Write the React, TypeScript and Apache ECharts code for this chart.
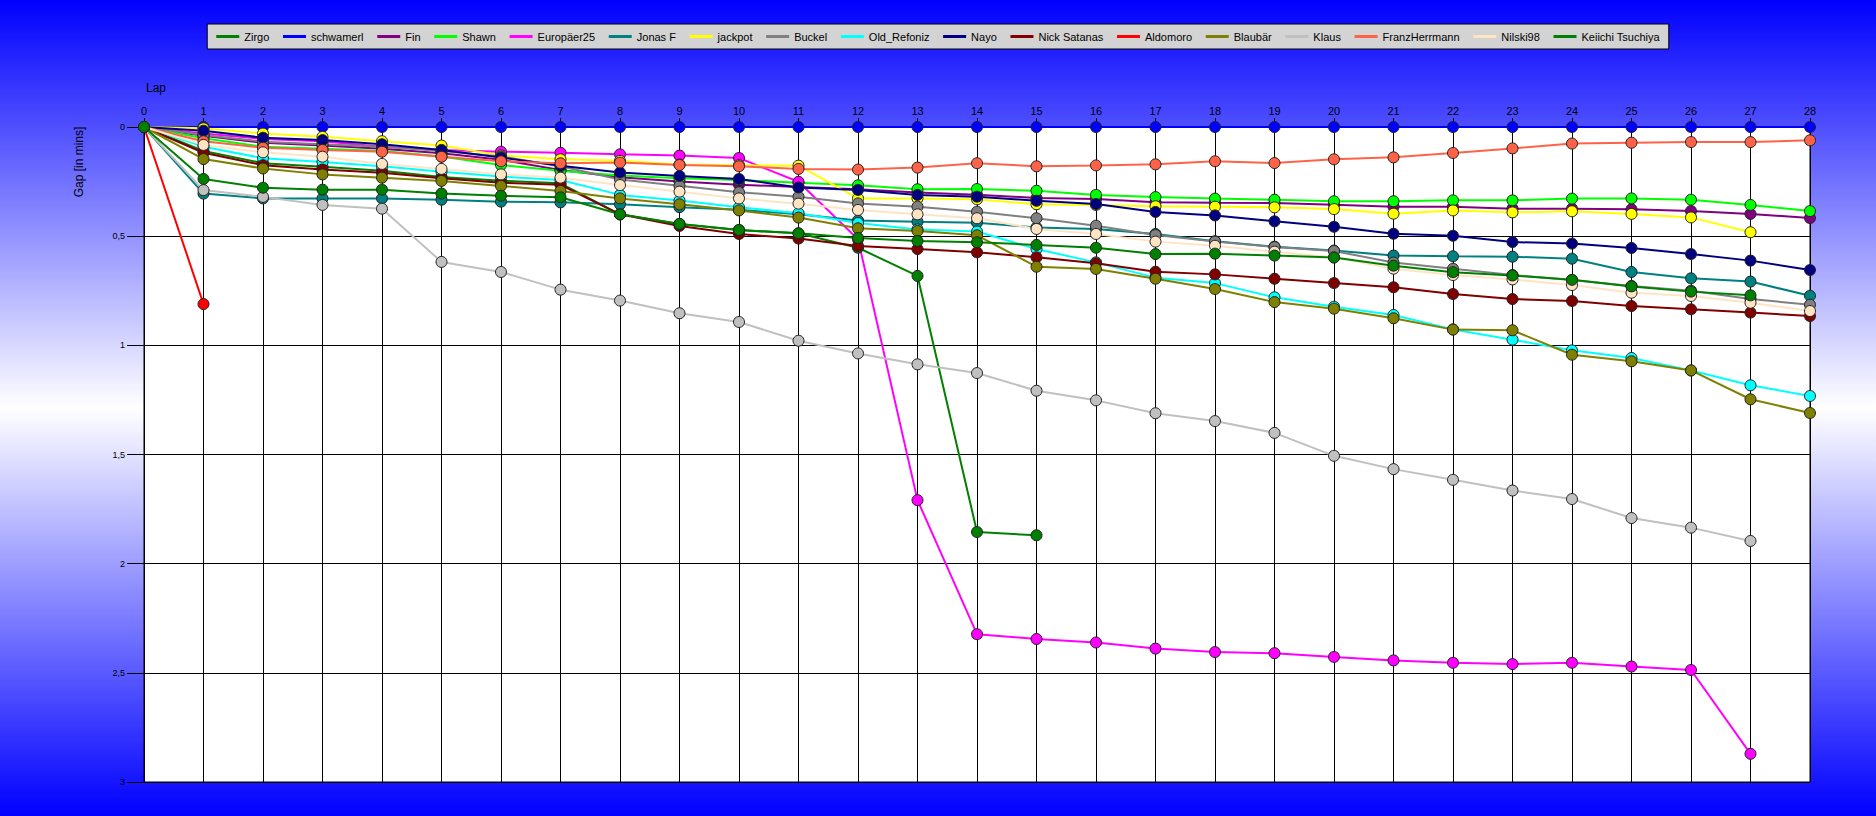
import React, { useEffect, useRef } from "react";
import * as echarts from "echarts";

const laps: string[] = Array.from({ length: 29 }, (_, i) => String(i));

const names = [
  "Zirgo", "schwamerl", "Fin", "Shawn", "Europäer25", "Jonas F", "jackpot", "Buckel",
  "Old_Refoniz", "Nayo", "Nick Satanas", "Aldomoro", "Blaubär", "Klaus",
  "FranzHerrmann", "Nilski98", "Keiichi Tsuchiya",
];

const colors = [
  "#008000", "#0000ff", "#800080", "#00ff00", "#ff00ff", "#008080", "#ffff00", "#808080",
  "#00ffff", "#000080", "#800000", "#ff0000", "#808000", "#c0c0c0",
  "#ff6347", "#ffe4c4", "#008000",
];

const zirgo = [0, 0.11, 0.166, 0.182, 0.2, 0.229, 0.246, 0.258, 0.40, 0.444, 0.472, 0.487, 0.553, 0.682, 1.855, 1.87];
const schwamerl = [0, 0, 0, 0, 0, 0, 0, 0, 0, 0, 0, 0, 0, 0, 0, 0, 0, 0, 0, 0, 0, 0, 0, 0, 0, 0, 0, 0, 0];
const fin = [0, 0.04, 0.072, 0.085, 0.1, 0.12, 0.15, 0.197, 0.23, 0.25, 0.264, 0.275, 0.285, 0.3, 0.31, 0.325, 0.33, 0.345, 0.347, 0.348, 0.356, 0.365, 0.365, 0.374, 0.374, 0.377, 0.385, 0.398, 0.417];
const shawn = [0, 0.052, 0.09, 0.1, 0.11, 0.135, 0.174, 0.2, 0.222, 0.235, 0.243, 0.255, 0.267, 0.285, 0.284, 0.292, 0.311, 0.321, 0.328, 0.333, 0.34, 0.34, 0.336, 0.336, 0.328, 0.327, 0.333, 0.357, 0.385];
const europaer25 = [0, 0.03, 0.055, 0.065, 0.09, 0.105, 0.113, 0.118, 0.125, 0.131, 0.142, 0.251, 0.514, 1.709, 2.323, 2.345, 2.361, 2.389, 2.405, 2.41, 2.427, 2.443, 2.454, 2.46, 2.454, 2.471, 2.487, 2.871];
const jonasF = [0, 0.305, 0.327, 0.327, 0.327, 0.333, 0.342, 0.345, 0.354, 0.367, 0.379, 0.4, 0.428, 0.434, 0.438, 0.46, 0.467, 0.49, 0.523, 0.548, 0.566, 0.589, 0.592, 0.594, 0.603, 0.664, 0.693, 0.708, 0.773];
const jackpot = [0, 0.006, 0.03, 0.045, 0.065, 0.085, 0.13, 0.148, 0.155, 0.172, 0.175, 0.177, 0.327, 0.327, 0.331, 0.354, 0.357, 0.363, 0.365, 0.368, 0.376, 0.397, 0.382, 0.391, 0.386, 0.398, 0.414, 0.482];
const buckel = [0, 0.037, 0.067, 0.079, 0.09, 0.11, 0.135, 0.18, 0.24, 0.269, 0.299, 0.319, 0.35, 0.365, 0.388, 0.418, 0.452, 0.495, 0.525, 0.55, 0.568, 0.621, 0.649, 0.678, 0.701, 0.728, 0.75, 0.788, 0.814];
const oldRefoniz = [0, 0.09, 0.143, 0.16, 0.18, 0.205, 0.227, 0.243, 0.311, 0.337, 0.368, 0.395, 0.44, 0.469, 0.479, 0.559, 0.62, 0.69, 0.715, 0.78, 0.823, 0.861, 0.927, 0.974, 1.023, 1.058, 1.115, 1.183, 1.232];
const nayo = [0, 0.017, 0.049, 0.06, 0.079, 0.105, 0.14, 0.177, 0.208, 0.224, 0.238, 0.277, 0.288, 0.311, 0.319, 0.338, 0.353, 0.389, 0.405, 0.432, 0.457, 0.489, 0.498, 0.527, 0.534, 0.554, 0.582, 0.612, 0.655];
const nickSatanas = [0, 0.118, 0.175, 0.195, 0.21, 0.235, 0.255, 0.265, 0.40, 0.453, 0.49, 0.511, 0.545, 0.559, 0.574, 0.597, 0.624, 0.663, 0.675, 0.695, 0.715, 0.734, 0.765, 0.788, 0.797, 0.82, 0.835, 0.85, 0.866];
const aldomoro = [0, 0.811];
const blaubaer = [0, 0.147, 0.19, 0.217, 0.232, 0.247, 0.27, 0.293, 0.327, 0.354, 0.382, 0.415, 0.464, 0.476, 0.496, 0.64, 0.65, 0.695, 0.742, 0.802, 0.832, 0.876, 0.928, 0.931, 1.043, 1.073, 1.115, 1.247, 1.31];
const klaus = [0, 0.289, 0.32, 0.357, 0.374, 0.618, 0.664, 0.745, 0.795, 0.853, 0.893, 0.979, 1.037, 1.087, 1.127, 1.208, 1.252, 1.311, 1.347, 1.401, 1.506, 1.567, 1.616, 1.665, 1.704, 1.791, 1.835, 1.896];
const franzHerrmann = [0, 0.065, 0.095, 0.105, 0.113, 0.136, 0.157, 0.166, 0.163, 0.174, 0.18, 0.192, 0.195, 0.186, 0.166, 0.18, 0.176, 0.171, 0.157, 0.165, 0.148, 0.139, 0.119, 0.098, 0.076, 0.072, 0.069, 0.069, 0.061];
const nilski98 = [0, 0.082, 0.116, 0.136, 0.169, 0.192, 0.217, 0.232, 0.266, 0.296, 0.327, 0.351, 0.38, 0.4, 0.418, 0.467, 0.49, 0.525, 0.544, 0.571, 0.597, 0.649, 0.678, 0.698, 0.724, 0.759, 0.774, 0.805, 0.843];
const keiichi = [0, 0.238, 0.278, 0.287, 0.287, 0.305, 0.315, 0.322, 0.40, 0.444, 0.472, 0.487, 0.508, 0.522, 0.528, 0.54, 0.553, 0.582, 0.58, 0.589, 0.598, 0.635, 0.665, 0.68, 0.70, 0.73, 0.754, 0.771];

const seriesValues = [
  zirgo, schwamerl, fin, shawn, europaer25, jonasF, jackpot, buckel,
  oldRefoniz, nayo, nickSatanas, aldomoro, blaubaer, klaus,
  franzHerrmann, nilski98, keiichi,
];

const yTicks = [0, 0.5, 1, 1.5, 2, 2.5, 3];

const FONT = "Liberation Sans, Arial, sans-serif";

export default function App() {
  const ref = useRef<HTMLDivElement>(null);

  useEffect(() => {
    if (!ref.current) return;
    const chart = echarts.init(ref.current, undefined, { renderer: "svg" });
    const series = names.map((name, i) => ({
      name,
      type: "line",
      data: seriesValues[i],
      symbol: "circle",
      symbolSize: 11,
      showSymbol: true,
      lineStyle: { color: colors[i], width: 2 },
      itemStyle: { color: colors[i], borderColor: "#222", borderWidth: 1 },
      emphasis: { disabled: true },
    }));
    chart.setOption({
      animation: false,
      backgroundColor: "transparent",
      textStyle: { fontFamily: FONT },
      legend: {
        data: names,
        top: 24,
        left: "center",
        backgroundColor: "#d3d3d3",
        borderColor: "#000",
        borderWidth: 1,
        padding: [7, 9, 7, 9],
        itemGap: 13.7,
        itemWidth: 23,
        itemHeight: 3,
        icon: "rect",
        selectedMode: false,
        itemStyle: { borderWidth: 0 },
        textStyle: { fontSize: 11, color: "#000", fontFamily: FONT, padding: [0, 0, 0, 0] },
      },
      grid: {
        left: 144,
        top: 127,
        width: 1666,
        height: 655,
        show: true,
        backgroundColor: "#ffffff",
        borderColor: "#000",
        borderWidth: 1,
      },
      xAxis: {
        type: "category",
        data: laps,
        boundaryGap: false,
        position: "top",
        axisLine: { show: true, lineStyle: { color: "#000", width: 1 } },
        axisTick: { show: true, length: 9, interval: 0, lineStyle: { color: "#000" } },
        axisLabel: { interval: 0, fontSize: 11, color: "#000", margin: 11, fontFamily: FONT },
        splitLine: { show: true, interval: 0, lineStyle: { color: "#000", width: 1 } },
      },
      yAxis: {
        type: "value",
        inverse: true,
        min: yTicks[0],
        max: yTicks[yTicks.length - 1],
        interval: 0.5,
        axisLine: { show: true, lineStyle: { color: "#000" } },
        axisTick: { show: true, length: 17, lineStyle: { color: "#000" } },
        axisLabel: {
          fontSize: 9,
          color: "#000",
          margin: 19,
          fontFamily: FONT,
          formatter: (v: number) => String(v).replace(".", ","),
        },
        splitLine: { show: true, lineStyle: { color: "#000", width: 1 } },
      },
      graphic: [
        {
          type: "text",
          left: 146,
          top: 82,
          style: { text: "Lap", fontSize: 12, fill: "#000", fontFamily: FONT },
        },
        {
          type: "text",
          x: 79,
          y: 162,
          rotation: Math.PI / 2,
          style: {
            text: "Gap [in mins]",
            fontSize: 12,
            fill: "#000",
            fontFamily: FONT,
            align: "center",
            verticalAlign: "middle",
          },
        },
      ],
      series,
    });
    return () => chart.dispose();
  }, []);

  return (
    <div
      ref={ref}
      style={{
        position: "fixed",
        left: 0,
        top: 0,
        width: 1876,
        height: 816,
        background: "linear-gradient(to bottom, #0000ff 0%, #ffffff 50%, #0000ff 100%)",
      }}
    />
  );
}
